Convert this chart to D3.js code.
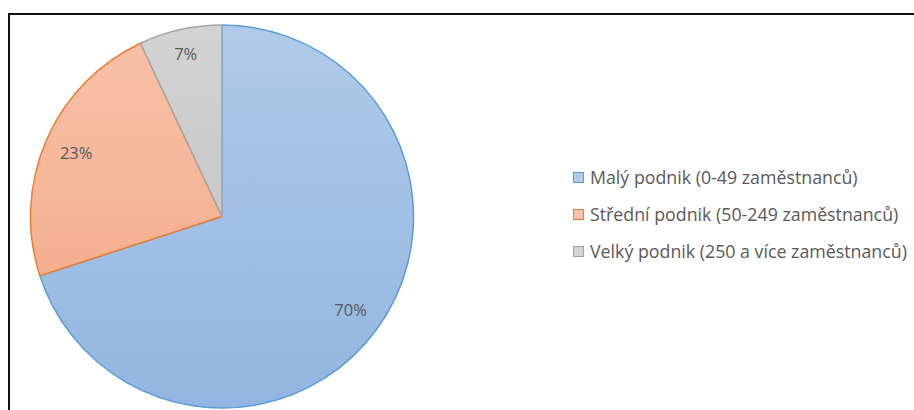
<!DOCTYPE html>
<html><head><meta charset="utf-8">
<script src="https://cdn.jsdelivr.net/npm/d3@7"></script>
<style>html,body{margin:0;padding:0;background:#fff;}svg{display:block;}</style>
</head><body>
<svg id="c" width="914" height="410"></svg>
<script>
const categories = ["Malý podnik (0-49 zaměstnanců)", "Střední podnik (50-249 zaměstnanců)", "Velký podnik (250 a více zaměstnanců)"];
const values = [70, 23, 7];
const labels = ["70%", "23%", "7%"];
const strokeColors = ["#5b9bd5", "#ed7d31", "#a5a5a5"];
const topColors = ["#b0cae9", "#f7c2a9", "#d3d3d3"];
const bottomColors = ["#92b6e1", "#f3a582", "#bdbdbd"];

const svg = d3.select("#c");
const font = "'Open Sans', sans-serif";

svg.append("rect").attr("x", 9).attr("y", 14).attr("width", 920).attr("height", 420)
  .attr("fill", "#fff").attr("stroke", "#111").attr("stroke-width", 2);

const cx = 222, cy = 216.5, r = 191.5;
const defs = svg.append("defs");
categories.forEach((c, i) => {
  const g = defs.append("linearGradient").attr("id", "g" + i)
    .attr("gradientUnits", "userSpaceOnUse")
    .attr("x1", 0).attr("y1", -r).attr("x2", 0).attr("y2", r);
  g.append("stop").attr("offset", "0").attr("stop-color", topColors[i]);
  g.append("stop").attr("offset", "1").attr("stop-color", bottomColors[i]);
});

const pie = d3.pie().sort(null).value(d => d)(values);
const arc = d3.arc().innerRadius(0).outerRadius(r);
const gp = svg.append("g").attr("transform", `translate(${cx},${cy})`);
gp.selectAll("path").data(pie).join("path")
  .attr("d", arc)
  .attr("fill", (d, i) => `url(#g${i})`)
  .attr("stroke", (d, i) => strokeColors[i])
  .attr("stroke-width", 1.5)
  .attr("stroke-linejoin", "round");

const labelArc = d3.arc().innerRadius(r * 0.83).outerRadius(r * 0.83);
const labelArcSmall = d3.arc().innerRadius(r * 0.87).outerRadius(r * 0.87);
gp.selectAll("text").data(pie).join("text")
  .attr("transform", d => `translate(${(d.value < 10 ? labelArcSmall : labelArc).centroid(d)})`)
  .attr("text-anchor", "middle").attr("dy", "0.35em")
  .attr("font-family", font).attr("font-size", 16.5).attr("fill", "#595959")
  .text((d, i) => labels[i]);

const leg = svg.append("g");
const ly = d3.scalePoint().domain(categories).range([178, 252]);
categories.forEach((c, i) => {
  const y = ly(c);
  leg.append("rect").attr("x", 573.5).attr("y", y - 5.5).attr("width", 10).attr("height", 10)
    .attr("fill", topColors[i]).attr("stroke", strokeColors[i]).attr("stroke-width", 1);
  leg.append("text").attr("x", 590).attr("y", y).attr("dy", "0.35em")
    .attr("font-family", font).attr("font-size", 17.8).attr("fill", "#595959").text(c);
});
</script>
</body></html>
